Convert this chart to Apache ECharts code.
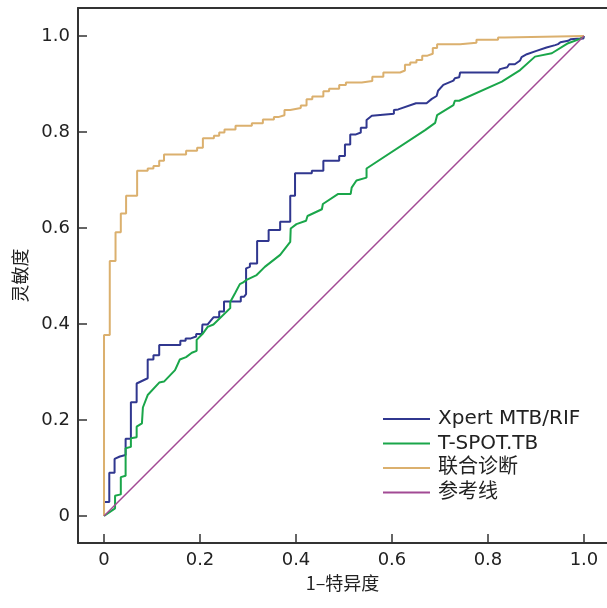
<!DOCTYPE html>
<html>
<head>
<meta charset="utf-8">
<script src="https://cdn.jsdelivr.net/npm/echarts@6/dist/echarts.min.js"></script>
<style>
  html, body { margin: 0; padding: 0; background: #fff; }
  #roc { width: 607px; height: 608px; }
</style>
</head>
<body>
<div id="roc"></div>
<script>
// 1-特异度, 灵敏度 pairs
const xpertData = [
  [0, 0], [0, 0.029], [0.011, 0.029], [0.011, 0.090], [0.022, 0.090], [0.022, 0.119],
  [0.033, 0.124], [0.033, 0.127], [0.045, 0.127], [0.045, 0.161], [0.056, 0.161],
  [0.056, 0.237], [0.068, 0.237], [0.068, 0.276], [0.091, 0.287], [0.091, 0.326],
  [0.103, 0.326], [0.103, 0.335], [0.115, 0.335], [0.115, 0.356], [0.159, 0.356],
  [0.159, 0.365], [0.170, 0.365], [0.170, 0.370], [0.181, 0.370], [0.181, 0.374],
  [0.192, 0.374], [0.192, 0.379], [0.204, 0.379], [0.205, 0.399], [0.216, 0.399],
  [0.228, 0.414], [0.240, 0.414], [0.240, 0.426], [0.250, 0.426], [0.250, 0.447],
  [0.285, 0.447], [0.285, 0.457], [0.292, 0.457], [0.296, 0.462], [0.296, 0.516],
  [0.304, 0.519], [0.304, 0.526], [0.319, 0.526], [0.319, 0.573], [0.343, 0.573],
  [0.343, 0.596], [0.367, 0.596], [0.367, 0.613], [0.388, 0.613], [0.388, 0.667],
  [0.398, 0.667], [0.398, 0.714], [0.433, 0.714], [0.433, 0.719], [0.457, 0.719],
  [0.457, 0.740], [0.490, 0.740], [0.490, 0.750], [0.502, 0.750], [0.502, 0.774],
  [0.513, 0.774], [0.513, 0.795], [0.525, 0.795], [0.535, 0.799], [0.535, 0.809],
  [0.547, 0.809], [0.547, 0.825], [0.558, 0.834], [0.604, 0.838], [0.604, 0.846],
  [0.613, 0.847], [0.650, 0.860], [0.672, 0.860], [0.683, 0.869], [0.693, 0.875],
  [0.696, 0.886], [0.707, 0.898], [0.728, 0.907], [0.731, 0.912], [0.740, 0.914],
  [0.742, 0.924], [0.821, 0.924], [0.825, 0.931], [0.840, 0.935], [0.844, 0.941],
  [0.856, 0.941], [0.858, 0.945], [0.867, 0.949], [0.870, 0.956], [0.881, 0.962],
  [0.901, 0.969], [0.922, 0.976], [0.940, 0.981], [0.946, 0.983], [0.951, 0.987],
  [0.967, 0.990], [0.972, 0.993], [0.985, 0.994], [0.999, 0.995], [1, 1]
]

const tspotData = [
  [0, 0], [0.023, 0.016], [0.023, 0.042], [0.035, 0.045], [0.035, 0.081], [0.045, 0.084],
  [0.045, 0.141], [0.056, 0.144], [0.056, 0.162], [0.068, 0.164], [0.068, 0.186],
  [0.079, 0.193], [0.081, 0.226], [0.091, 0.252], [0.115, 0.278], [0.125, 0.280],
  [0.148, 0.304], [0.158, 0.326], [0.171, 0.331], [0.183, 0.340], [0.193, 0.344],
  [0.193, 0.367], [0.205, 0.379], [0.216, 0.394], [0.228, 0.399], [0.263, 0.433],
  [0.263, 0.446], [0.273, 0.464], [0.283, 0.483], [0.289, 0.486], [0.297, 0.492],
  [0.318, 0.502], [0.335, 0.519], [0.367, 0.544], [0.388, 0.571], [0.389, 0.599],
  [0.401, 0.608], [0.421, 0.615], [0.424, 0.625], [0.454, 0.639], [0.456, 0.650],
  [0.488, 0.671], [0.514, 0.671], [0.516, 0.684], [0.526, 0.699], [0.547, 0.705],
  [0.547, 0.724], [0.669, 0.804], [0.690, 0.819], [0.694, 0.819], [0.694, 0.835],
  [0.728, 0.856], [0.731, 0.865], [0.740, 0.865], [0.829, 0.905], [0.867, 0.929],
  [0.898, 0.957], [0.933, 0.964], [0.967, 0.985], [0.992, 0.994], [1, 1]
]

// 联合诊断: step corners (x where the curve rises, new sensitivity)
const combinedData = [
  [0, 0], [0, 0.377], [0.012, 0.531], [0.024, 0.591], [0.035, 0.630], [0.046, 0.667],
  [0.069, 0.719], [0.091, 0.724], [0.103, 0.729], [0.115, 0.740], [0.125, 0.753],
  [0.171, 0.761], [0.194, 0.767], [0.206, 0.787], [0.229, 0.792], [0.240, 0.799],
  [0.251, 0.805], [0.274, 0.813], [0.308, 0.818], [0.331, 0.826], [0.354, 0.831],
  [0.363, 0.835], [0.376, 0.846], [0.388, 0.850], [0.410, 0.855], [0.422, 0.868],
  [0.434, 0.874], [0.457, 0.885], [0.469, 0.890], [0.490, 0.898], [0.504, 0.903],
  [0.537, 0.906], [0.559, 0.915], [0.582, 0.924], [0.617, 0.928], [0.627, 0.940],
  [0.638, 0.945], [0.651, 0.950], [0.663, 0.959], [0.674, 0.963], [0.685, 0.975],
  [0.694, 0.983], [0.742, 0.986], [0.776, 0.992], [0.821, 0.997], [0.835, 1.0], [1, 1]
]

const refData = [[0, 0], [1, 1]]

const seriesNames = ['Xpert MTB/RIF', 'T-SPOT.TB', '联合诊断', '参考线']
const tickValues = [0, 0.2, 0.4, 0.6, 0.8, 1.0]
const xMin = -0.0542
const xMax = 1.048

let chartDom = document.getElementById('roc')
let myChart = echarts.init(chartDom)

const axisCommon = {
  type: 'value',
  nameLocation: 'middle',
  nameTextStyle: {
    fontFamily: 'Noto Sans CJK SC',
    fontSize: 18,
    color: '#222'
  },
  splitLine: { show: false },
  axisLine: {
    show: true,
    onZero: false,
    lineStyle: { color: '#333', width: 2 }
  },
  axisTick: {
    show: true,
    inside: true,
    length: 9,
    customValues: tickValues,
    lineStyle: { color: '#333', width: 1.5 }
  },
  axisLabel: {
    customValues: tickValues,
    fontFamily: 'DejaVu Sans',
    fontSize: 18,
    color: '#222',
    margin: 8,
    formatter: v => (v === 0 ? '0' : v.toFixed(1))
  }
}

let option = {
  animation: false,
  color: ['#30378f', '#1aa64a', '#dbb06e', '#a24a94'],
  grid: {
    left: 78,
    top: 8,
    right: 0,
    bottom: 65
  },
  legend: {
    orient: 'vertical',
    left: 378,
    top: 404,
    icon: 'rect',
    itemWidth: 47,
    itemHeight: 2,
    itemGap: 4.5,
    data: seriesNames,
    textStyle: {
      fontFamily: 'DejaVu Sans, Noto Sans CJK SC',
      fontSize: 20,
      lineHeight: 20,
      color: '#222',
      padding: [0, 0, 0, 3]
    }
  },
  xAxis: [
    Object.assign({}, axisCommon, {
      name: '1–特异度',
      nameGap: 31,
      min: xMin,
      max: xMax
    }),
    {
      // top frame line only
      type: 'value',
      position: 'top',
      min: xMin,
      max: xMax,
      axisLine: { show: true, onZero: false, lineStyle: { color: '#333', width: 2 } },
      axisTick: { show: false },
      axisLabel: { show: false },
      splitLine: { show: false }
    }
  ],
  yAxis: Object.assign({}, axisCommon, {
    name: '灵敏度',
    nameGap: 49,
    min: -0.05625,
    max: 1.0583
  }),
  series: [
    {
      name: seriesNames[0],
      type: 'line',
      symbol: 'none',
      data: xpertData,
      lineStyle: { width: 2 }
    },
    {
      name: seriesNames[1],
      type: 'line',
      symbol: 'none',
      data: tspotData,
      lineStyle: { width: 2 }
    },
    {
      name: seriesNames[2],
      type: 'line',
      symbol: 'none',
      step: 'end',
      data: combinedData,
      lineStyle: { width: 2 }
    },
    {
      name: seriesNames[3],
      type: 'line',
      symbol: 'none',
      data: refData,
      lineStyle: { width: 1.5 }
    }
  ]
}
myChart.setOption(option)

window.addEventListener('resize', () => {
  myChart.resize()
})
</script>
</body>
</html>
